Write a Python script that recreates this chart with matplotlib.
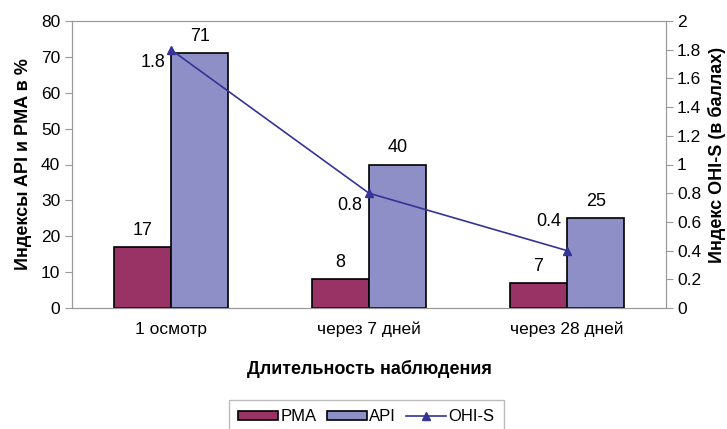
import matplotlib.pyplot as plt
import numpy as np

plt.rcParams['font.family'] = ['Liberation Sans', 'DejaVu Sans']

categories = ["1 осмотр", "через 7 дней", "через 28 дней"]
pma = [17, 8, 7]
api = [71, 40, 25]
ohis = [1.8, 0.8, 0.4]

x = np.arange(len(categories))
w = 0.29

fig = plt.figure(figsize=(7.27, 4.29), dpi=100)
ax = fig.add_axes([72 / 727, 1 - 308 / 429, (666 - 72) / 727, (308 - 21) / 429])

ax.bar(x - w / 2, pma, w, color="#993366", edgecolor="black", linewidth=1.2, label="PMA")
ax.bar(x + w / 2, api, w, color="#8e8fc6", edgecolor="black", linewidth=1.2, label="API")
for xi, v in zip(x, pma):
    ax.annotate(str(v), (xi - w / 2, v), xytext=(0, 6), textcoords="offset points",
                ha="center", va="bottom", fontsize=13)
for xi, v in zip(x, api):
    ax.annotate(str(v), (xi + w / 2, v), xytext=(0, 6), textcoords="offset points",
                ha="center", va="bottom", fontsize=13)

ax.set_xlim(-0.5, 2.5)
ax.set_ylim(0, 80)
ax.set_yticks(range(0, 81, 10))
ax.set_xticks(x)
ax.set_xticklabels(categories)
ax.set_ylabel("Индексы API и PMA в %", fontsize=13, fontweight="bold", labelpad=6)
ax.set_xlabel("Длительность наблюдения", fontsize=13, fontweight="bold", labelpad=16)
ax.tick_params(labelsize=12.5, color="#999999", length=5)
ax.tick_params(axis="x", length=0, pad=10)

ax2 = ax.twinx()
ax2.plot(x, ohis, color="#333399", marker="^", markersize=6, linewidth=1.2, label="OHI-S")
# label offsets (points) for the line values
offs = [(-4, -9), (-5, -9), (-4, 21)]
for xi, v, o in zip(x, ohis, offs):
    ax2.annotate(str(v), (xi, v), xytext=o, textcoords="offset points",
                 ha="right", va="center", fontsize=13)
ax2.set_ylim(0, 2)
ax2.set_yticks(np.arange(0, 2.01, 0.2))
ax2.set_yticklabels(["0", "0.2", "0.4", "0.6", "0.8", "1", "1.2", "1.4", "1.6", "1.8", "2"])
ax2.tick_params(labelsize=12.5, color="#999999", length=5, pad=3)
fig.text(717 / 727, 1 - 155 / 429, "Индекс OHI-S (в баллах)", rotation=90,
         ha="center", va="center", fontsize=13, fontweight="bold")

for a in (ax, ax2):
    for s in a.spines.values():
        s.set_color("#999999")

h1, l1 = ax.get_legend_handles_labels()
h2, l2 = ax2.get_legend_handles_labels()
fig.legend(h1 + h2, l1 + l2, loc="lower center", bbox_to_anchor=(0.504, -0.03), ncol=3,
           fontsize=12, frameon=True, fancybox=False, edgecolor="#aaaaaa",
           handlelength=2.4, handleheight=0.5, handletextpad=0.15, columnspacing=0.6,
           borderpad=0.55)

fig.savefig("out.png", dpi=100)
